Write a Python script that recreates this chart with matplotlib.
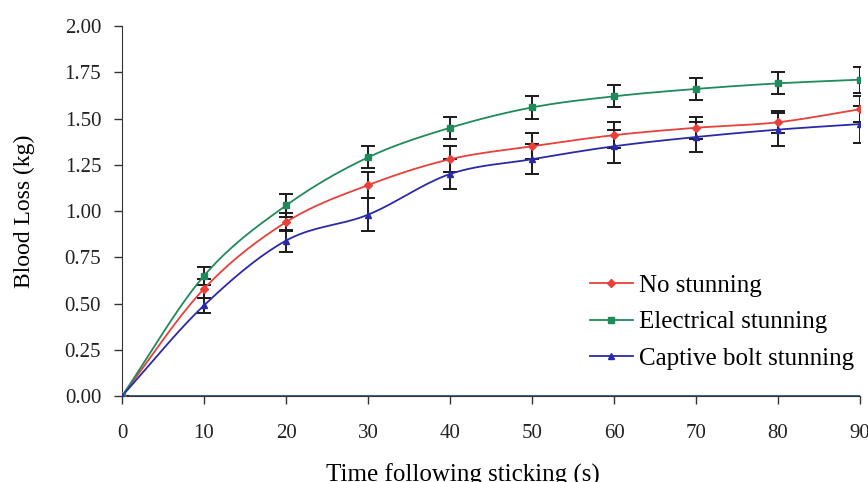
import numpy as np
import matplotlib
matplotlib.use("Agg")
import matplotlib.pyplot as plt
from matplotlib.lines import Line2D

plt.rcParams['font.family'] = ['Liberation Serif', 'DejaVu Serif']

time_s = [0, 10, 20, 30, 40, 50, 60, 70, 80, 90]

no_stun = [0.0, 0.58, 0.94, 1.14, 1.28, 1.35, 1.41, 1.45, 1.48, 1.55]
no_stun_err = [0.0, 0.05, 0.05, 0.07, 0.07, 0.07, 0.07, 0.06, 0.06, 0.07]

electrical = [0.0, 0.65, 1.03, 1.29, 1.45, 1.56, 1.62, 1.66, 1.69, 1.71]
electrical_err = [0.0, 0.05, 0.06, 0.06, 0.06, 0.06, 0.06, 0.06, 0.06, 0.07]

captive = [0.0, 0.49, 0.84, 0.98, 1.20, 1.28, 1.35, 1.40, 1.44, 1.47]
captive_err = [0.0, 0.04, 0.06, 0.09, 0.08, 0.08, 0.09, 0.08, 0.09, 0.10]

labels = ["No stunning", "Electrical stunning", "Captive bolt stunning"]
colors = ["#e8403a", "#1f8a5a", "#2a2aa8"]
markers = ["D", "s", "^"]


def smooth(x, y, n=20):
    # catmull-rom curve through the points, like the spreadsheet "smoothed line"
    x = np.asarray(x, float)
    y = np.asarray(y, float)
    px = np.concatenate([[2 * x[0] - x[1]], x, [2 * x[-1] - x[-2]]])
    py = np.concatenate([[2 * y[0] - y[1]], y, [2 * y[-1] - y[-2]]])
    xs, ys = [], []
    t = np.linspace(0, 1, n)
    for i in range(1, len(px) - 2):
        for p, out in ((px, xs), (py, ys)):
            p0, p1, p2, p3 = p[i - 1], p[i], p[i + 1], p[i + 2]
            out.extend(0.5 * ((2 * p1) + (-p0 + p2) * t
                              + (2 * p0 - 5 * p1 + 4 * p2 - p3) * t ** 2
                              + (-p0 + 3 * p1 - 3 * p2 + p3) * t ** 3))
    return xs, ys


fig = plt.figure(figsize=(8.68, 4.82), dpi=100)
ax = fig.add_axes([0.1406, 0.1784, 0.8502, 0.7676])

series = [(no_stun, no_stun_err), (electrical, electrical_err), (captive, captive_err)]
for (vals, errs), c, m in zip(series, colors, markers):
    sx, sy = smooth(time_s, vals)
    ax.plot(sx, sy, color=c, lw=1.3, zorder=3)
    ax.errorbar(time_s, vals, yerr=errs, fmt="none", ecolor="#1a1a1a",
                elinewidth=1.4, capsize=5, capthick=1.4, zorder=2)
    ax.plot(time_s, vals, ls="none", marker=m, ms=4.5, color=c, zorder=4)

ax.axhline(0, color="#3a6a8a", lw=1.5, zorder=1)

ax.set_xlim(0, 90)
ax.set_ylim(0, 2.0)
ax.set_xticks(time_s)
ax.set_yticks(np.arange(0, 2.01, 0.25))
ax.yaxis.set_major_formatter(matplotlib.ticker.FormatStrFormatter('%.2f'))
ax.spines['top'].set_visible(False)
ax.spines['right'].set_visible(False)
ax.spines['left'].set_color("#333333")
ax.spines['bottom'].set_color("#333333")
ax.tick_params(direction='out', length=6, width=1, colors="#333333",
               labelsize=15, labelcolor="#222222")
ax.tick_params(axis='x', pad=14)
ax.tick_params(axis='y', pad=9)
ax.set_xlabel("Time following sticking (s)", fontsize=18)
ax.xaxis.set_label_coords(0.462, -0.182)
ax.set_ylabel("Blood Loss (kg)", fontsize=17, labelpad=21)

handles = [Line2D([0], [0], color=c, marker=m, ms=4.5, lw=1.3) for c, m in zip(colors, markers)]
ax.legend(handles, labels, loc='upper left', bbox_to_anchor=(0.68, 0.43),
          bbox_transform=fig.transFigure, frameon=False, fontsize=18,
          handlelength=1.7, handletextpad=0.25, labelspacing=0.55,
          borderpad=0, borderaxespad=0)

fig.savefig("out.png", dpi=100)
